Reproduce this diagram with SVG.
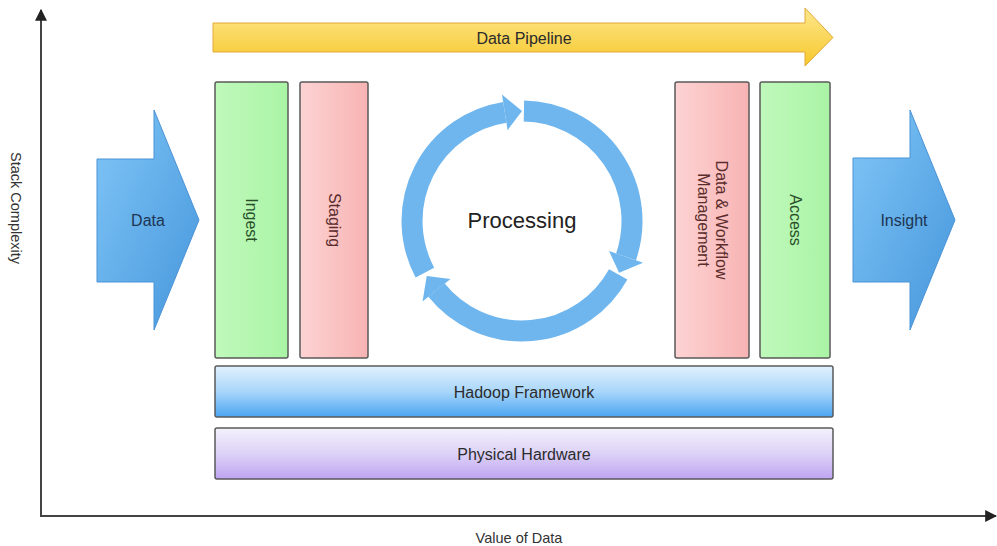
<svg xmlns="http://www.w3.org/2000/svg" width="997" height="546" viewBox="0 0 997 546">
  <defs>
    <linearGradient id="gBlueArrow" x1="0" y1="0" x2="1" y2="1">
      <stop offset="0" stop-color="#80c6f7"/>
      <stop offset="1" stop-color="#4696dc"/>
    </linearGradient>
    <linearGradient id="gYellow" x1="0" y1="0" x2="0" y2="1">
      <stop offset="0" stop-color="#fde78c"/>
      <stop offset="1" stop-color="#f7c82c"/>
    </linearGradient>
    <linearGradient id="gGreen" x1="0" y1="0" x2="1" y2="0">
      <stop offset="0" stop-color="#bff9bb"/>
      <stop offset="1" stop-color="#aaf4a6"/>
    </linearGradient>
    <linearGradient id="gPink" x1="0" y1="0" x2="1" y2="0">
      <stop offset="0" stop-color="#fdd3d3"/>
      <stop offset="1" stop-color="#f8b3b3"/>
    </linearGradient>
    <linearGradient id="gHadoop" x1="0" y1="0" x2="0" y2="1">
      <stop offset="0" stop-color="#e2f1fd"/>
      <stop offset="0.5" stop-color="#a9d6fa"/>
      <stop offset="1" stop-color="#4ba5f2"/>
    </linearGradient>
    <linearGradient id="gHardware" x1="0" y1="0" x2="0" y2="1">
      <stop offset="0" stop-color="#f3f1fc"/>
      <stop offset="0.5" stop-color="#ddd2f7"/>
      <stop offset="1" stop-color="#bfa4f1"/>
    </linearGradient>
    <marker id="axisHead" viewBox="0 0 10 10" refX="9" refY="5" markerWidth="6" markerHeight="6" orient="auto">
      <path d="M0,0 L10,5 L0,10 Z" fill="#222"/>
    </marker>
    <style>
      text { font-family: "Liberation Sans", Arial, sans-serif; }
      .lbl { font-size: 16px; fill: #2b2b2b; text-anchor: middle; dominant-baseline: central; }
      .axislbl { font-size: 14.5px; fill: #333; text-anchor: middle; dominant-baseline: central; }
      .box { stroke: #5a5a5a; stroke-width: 1.5; }
      .green { fill: url(#gGreen); }
      .pink { fill: url(#gPink); }
      .gtxt { fill: #2a4f28; }
      .rtxt { fill: #5a2c2c; }
      .btxt { fill: #1d3552; }
      .bigarrow { fill: url(#gBlueArrow); stroke: #4b93d6; stroke-width: 1; }
      .ring { fill: none; stroke: #6fb6ee; stroke-width: 21; }
      .ringhead { fill: #6fb6ee; }
      .axis { stroke: #444; stroke-width: 2; fill: none; }
    </style>
  </defs>

  <rect width="997" height="546" fill="#ffffff"/>

  <!-- axes -->
  <g id="connectors">
    <line class="axis" x1="41" y1="517" x2="41" y2="10" marker-end="url(#axisHead)"/>
    <line class="axis" x1="41" y1="516" x2="996" y2="516" marker-end="url(#axisHead)"/>
  </g>
  <text class="axislbl" transform="translate(16,208) rotate(90)">Stack Complexity</text>
  <text class="axislbl" x="519" y="538">Value of Data</text>

  <!-- pipeline banner -->
  <g id="pipeline">
    <polygon points="213,23 805,23 805,8 833,37.5 805,66 805,52 213,52" fill="url(#gYellow)" stroke="#e2a93a" stroke-width="1"/>
    <text class="lbl" x="524" y="38" fill="#333">Data Pipeline</text>
  </g>

  <!-- input arrow -->
  <g id="data">
    <polygon class="bigarrow" points="97,159 154,159 154,110 199,220 154,330 154,282 97,282"/>
    <text class="lbl btxt" x="148" y="220">Data</text>
  </g>

  <g id="ingest">
    <rect class="box green" x="215" y="82" width="73" height="276" rx="2"/>
    <text class="lbl gtxt" transform="translate(251.5,220) rotate(90)">Ingest</text>
  </g>

  <g id="staging">
    <rect class="box pink" x="300" y="82" width="68" height="276" rx="2"/>
    <text class="lbl rtxt" transform="translate(334,220) rotate(90)">Staging</text>
  </g>

  <!-- processing cycle: three curved arrows -->
  <g id="processing">
    <path class="ring" d="M424.9,272.6 A110,110 0 0 1 504.79,112.35"/>
    <polygon class="ringhead" points="507.61,130.13 501.98,94.57 522,111"/>
    <path class="ring" d="M523.92,111.02 A110,110 0 0 1 626.01,256.82"/>
    <polygon class="ringhead" points="608.99,250.96 643.02,262.68 619.12,272.65"/>
    <path class="ring" d="M618.21,274.33 A110,110 0 0 1 436.52,290.22"/>
    <polygon class="ringhead" points="450.51,278.90 422.53,301.55 426.74,276"/>
    <text x="522" y="220" font-size="22" fill="#222" text-anchor="middle" dominant-baseline="central">Processing</text>
  </g>

  <g id="management">
    <rect class="box pink" x="675" y="82" width="74" height="276" rx="2"/>
    <text class="lbl rtxt" transform="translate(721,220) rotate(90)">Data &amp; Workflow</text>
    <text class="lbl rtxt" transform="translate(703,220) rotate(90)">Management</text>
  </g>

  <g id="access">
    <rect class="box green" x="760" y="82" width="70" height="276" rx="2"/>
    <text class="lbl gtxt" transform="translate(795,220) rotate(90)">Access</text>
  </g>

  <!-- output arrow -->
  <g id="insight">
    <polygon class="bigarrow" points="853,158 910,158 910,110 955,220 910,330 910,282 853,282"/>
    <text class="lbl btxt" x="904" y="220">Insight</text>
  </g>

  <g id="hadoop">
    <rect class="box" x="215" y="366" width="618" height="51" rx="2" fill="url(#gHadoop)"/>
    <text class="lbl" x="524" y="392">Hadoop Framework</text>
  </g>

  <g id="hardware">
    <rect class="box" x="215" y="428" width="618" height="51" rx="2" fill="url(#gHardware)"/>
    <text class="lbl" x="524" y="454">Physical Hardware</text>
  </g>
</svg>
